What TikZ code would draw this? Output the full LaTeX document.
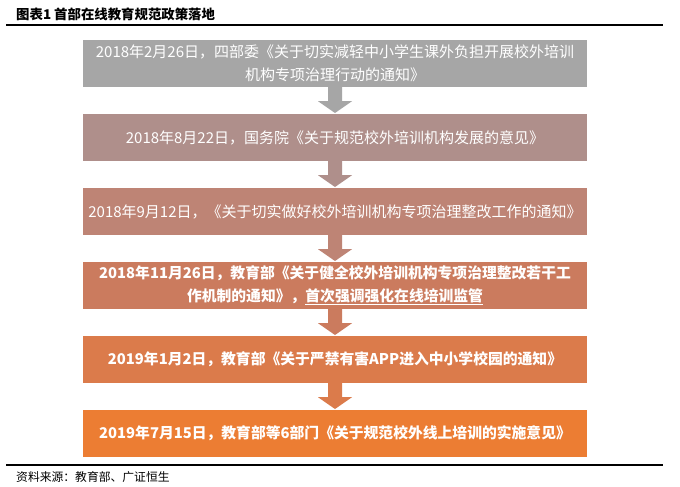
\documentclass[tikz,border=0pt]{standalone}
\usepackage{fontspec}
\usetikzlibrary{calc}
\newfontfamily\cjk{Noto Sans CJK SC}
\definecolor{cA}{HTML}{A6A6A6}
\definecolor{cB}{HTML}{AF8F8B}
\definecolor{cC}{HTML}{BE8475}
\definecolor{cD}{HTML}{CB7B5E}
\definecolor{cE}{HTML}{DB7B4B}
\definecolor{cF}{HTML}{EC7D33}
\tikzset{
  stagebox/.style={fill=#1, draw=none, minimum width=504pt, minimum height=47pt, inner sep=0pt,
    text=white, align=center, font=\cjk\fontsize{15}{22.5}\selectfont},
  boldbox/.style={stagebox=#1, font=\cjk\bfseries\fontsize{14.8}{22.5}\selectfont},
  rulebar/.style={line width=#1, black}
}
\newcommand{\blockarrow}[3]{%
  \fill[#3] ($(#1.south)+(-7,0)$) -- ($(#1.south)+(7,0)$) -- ($(#1.south)+(7,14)$)
    -- ($(#1.south)+(17,14)$) -- ($(#2.north)+(0,-0.8)$) -- ($(#1.south)+(-17,14)$)
    -- ($(#1.south)+(-7,14)$) -- cycle;}
\begin{document}
\begin{tikzpicture}[x=1pt,y=-1pt]
\useasboundingbox (0,0) rectangle (680,487);
\fill[white] (0,0) rectangle (680,487);
\node[anchor=west, inner sep=0pt, font=\cjk\bfseries\fontsize{13.4}{15}\selectfont] (title) at (16,14) {图表1 首部在线教育规范政策落地};
\draw[rulebar=2.2pt] (6,25) -- (663,25);
\node[stagebox=cA] (b1) at (335,63.5) {2018年2月26日，四部委《关于切实减轻中小学生课外负担开展校外培训\\机构专项治理行动的通知》};
\node[stagebox=cB] (b2) at (335,137.5) {2018年8月22日，国务院《关于规范校外培训机构发展的意见》};
\node[stagebox=cC] (b3) at (335,211.5) {2018年9月12日，《关于切实做好校外培训机构专项治理整改工作的通知》};
\node[boldbox=cD] (b4) at (335,285.5) {2018年11月26日，教育部《关于健全校外培训机构专项治理整改若干工\\作机制的通知》，\underline{首次强调强化在线培训监管}};
\node[boldbox=cE] (b5) at (335,359.5) {2019年1月2日，教育部《关于严禁有害APP进入中小学校园的通知》};
\node[boldbox=cF] (b6) at (335,433.5) {2019年7月15日，教育部等6部门《关于规范校外线上培训的实施意见》};
\blockarrow{b1}{b2}{cA}
\blockarrow{b2}{b3}{cB}
\blockarrow{b3}{b4}{cC}
\blockarrow{b4}{b5}{cD}
\blockarrow{b5}{b6}{cE}
\draw[rulebar=2.6pt] (6,465) -- (663,465);
\node[anchor=west, inner sep=0pt, font=\cjk\fontsize{11.8}{13}\selectfont] (src) at (16,477) {资料来源：教育部、广证恒生};
\end{tikzpicture}
\end{document}
